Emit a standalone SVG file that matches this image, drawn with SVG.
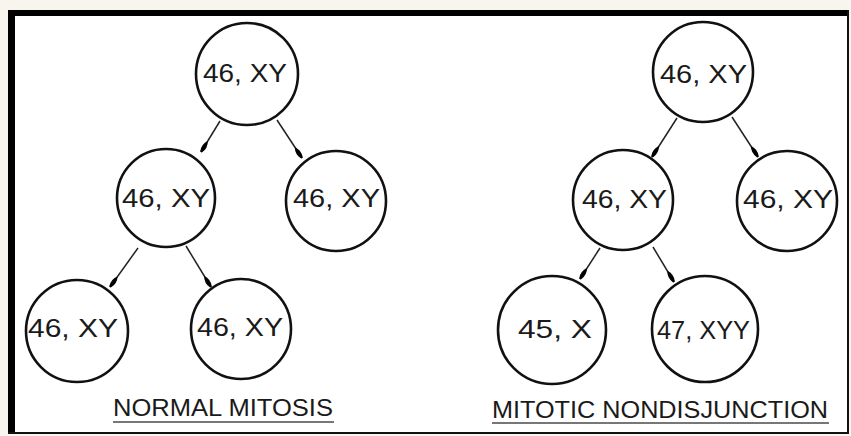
<svg xmlns="http://www.w3.org/2000/svg" width="851" height="436" viewBox="0 0 851 436">
  <style>
    .cell { fill: #ffffff; stroke: #111; stroke-width: 2.6; }
    .lbl { font-family: "Liberation Sans", Arial, sans-serif; font-size: 25.5px; fill: #1a1a1a; }
    .cap { font-family: "Liberation Sans", Arial, sans-serif; font-size: 24px; fill: #1a1a1a; }
    .edge { stroke: #222; stroke-width: 1.5; fill: none; marker-end: url(#tip); }
    .ul { stroke: #777; stroke-width: 2; }
  </style>
  <defs>
    <marker id="tip" markerUnits="userSpaceOnUse" viewBox="0 0 14 8" refX="13" refY="4" markerWidth="14" markerHeight="8" orient="auto">
      <path d="M0,4 Q6,0 13,3 L13,5 Q6,8 0,4 Z" fill="#000"/>
    </marker>
  </defs>

  <!-- page and frame -->
  <rect x="0" y="0" width="851" height="436" fill="#f8f5ee"/>
  <rect x="8" y="10" width="841" height="424" fill="#ffffff"/>
  <line x1="11.5" y1="10" x2="11.5" y2="434" stroke="#000" stroke-width="7"/>
  <line x1="8" y1="13" x2="849" y2="13" stroke="#000" stroke-width="6"/>
  <line x1="848" y1="10" x2="848" y2="434" stroke="#111" stroke-width="2"/>
  <line x1="8" y1="433" x2="849" y2="433" stroke="#111" stroke-width="2"/>

  <!-- normal mitosis tree -->
  <g id="n-root">
    <circle class="cell" cx="247" cy="74" r="51"/>
    <text class="lbl" x="203" y="82" textLength="84" lengthAdjust="spacingAndGlyphs">46, XY</text>
  </g>
  <g id="n-a">
    <circle class="cell" cx="166" cy="198" r="49"/>
    <text class="lbl" x="122" y="207" textLength="88" lengthAdjust="spacingAndGlyphs">46, XY</text>
  </g>
  <g id="n-b">
    <circle class="cell" cx="336" cy="201" r="50"/>
    <text class="lbl" x="293" y="207" textLength="87" lengthAdjust="spacingAndGlyphs">46, XY</text>
  </g>
  <g id="n-a1">
    <circle class="cell" cx="77" cy="331" r="51"/>
    <text class="lbl" x="28" y="337" textLength="90" lengthAdjust="spacingAndGlyphs">46, XY</text>
  </g>
  <g id="n-a2">
    <circle class="cell" cx="241" cy="329" r="50"/>
    <text class="lbl" x="197" y="336" textLength="86" lengthAdjust="spacingAndGlyphs">46, XY</text>
  </g>

  <!-- nondisjunction tree -->
  <g id="d-root">
    <circle class="cell" cx="703" cy="72" r="50"/>
    <text class="lbl" x="660" y="83" textLength="87" lengthAdjust="spacingAndGlyphs">46, XY</text>
  </g>
  <g id="d-a">
    <circle class="cell" cx="623" cy="200" r="50"/>
    <text class="lbl" x="582" y="208" textLength="85" lengthAdjust="spacingAndGlyphs">46, XY</text>
  </g>
  <g id="d-b">
    <circle class="cell" cx="787" cy="201" r="50"/>
    <text class="lbl" x="743" y="208" textLength="90" lengthAdjust="spacingAndGlyphs">46, XY</text>
  </g>
  <g id="d-a1">
    <circle class="cell" cx="552" cy="330" r="54"/>
    <text class="lbl" x="518" y="338" textLength="74" lengthAdjust="spacingAndGlyphs">45, X</text>
  </g>
  <g id="d-a2">
    <circle class="cell" cx="705" cy="329" r="53"/>
    <text class="lbl" x="657" y="339" textLength="93" lengthAdjust="spacingAndGlyphs">47, XYY</text>
  </g>

  <!-- connectors, drawn over the cells so the heads stay visible -->
  <g id="connectors">
    <line class="edge" x1="220" y1="121" x2="201" y2="152"/>
    <line class="edge" x1="277" y1="120" x2="302" y2="158"/>
    <line class="edge" x1="138" y1="248" x2="110" y2="287"/>
    <line class="edge" x1="186" y1="246" x2="211" y2="287"/>
    <line class="edge" x1="677" y1="118" x2="652" y2="157"/>
    <line class="edge" x1="732" y1="117" x2="758" y2="157"/>
    <line class="edge" x1="600" y1="248" x2="580" y2="279"/>
    <line class="edge" x1="653" y1="247" x2="674" y2="282"/>
  </g>

  <!-- captions -->
  <g id="caption-left">
    <text class="cap" x="113" y="416" textLength="220" lengthAdjust="spacingAndGlyphs">NORMAL MITOSIS</text>
    <line class="ul" x1="113" y1="422" x2="334" y2="422"/>
  </g>
  <g id="caption-right">
    <text class="cap" x="492" y="418" textLength="336" lengthAdjust="spacingAndGlyphs">MITOTIC NONDISJUNCTION</text>
    <line class="ul" x1="492" y1="423" x2="829" y2="423"/>
  </g>
</svg>
